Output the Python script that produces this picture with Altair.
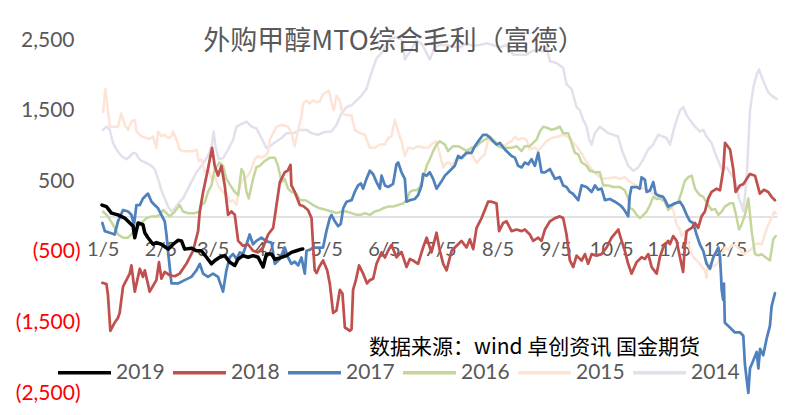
import altair as alt
import pandas as pd

# (day of year, margin) points, one list per year
s2019 = [(4.6,164),(7.0,142),(9.7,49),(13.2,25),(16.8,-21),(18.6,-67),(21.3,-136),(22.2,-299),(24.0,-90),(26.6,-114),(27.6,-229),(29.3,-299),(32.0,-392),(33.8,-368),(36.5,-392),(40.1,-461),(42.8,-392),(45.4,-336),(47.3,-344),(49.0,-461),(52.6,-447),(55.3,-484),(58.0,-484),(60.7,-576),(63.4,-669),(65.2,-622),(67.8,-576),(70.5,-553),(73.2,-646),(75.9,-692),(77.7,-600),(80.3,-553),(83.0,-576),(85.7,-553),(88.4,-576),(91.1,-715),(92.9,-531),(95.6,-531),(97.4,-604),(100.1,-586),(103.7,-553),(106.3,-507),(109.0,-484),(111.7,-461),(112.4,-458)]

s2018 = [(4.8,-938),(7.0,-956),(7.8,-1108),(9.1,-1618),(11.4,-1503),(13.2,-1433),(14.1,-1364),(15.9,-993),(18.6,-854),(19.5,-808),(20.4,-692),(22.2,-1063),(24.9,-739),(26.6,-854),(27.6,-761),(30.2,-1063),(33.8,-900),(35.2,-646),(36.5,-878),(38.3,-785),(41.0,-831),(43.7,-845),(46.3,-808),(49.9,-669),(53.5,-484),(56.2,-206),(57.1,72),(58.9,350),(61.5,674),(63.7,975),(65.1,720),(66.9,581),(68.7,720),(70.5,442),(72.3,25),(74.1,72),(75.9,25),(77.7,-344),(80.3,-414),(83.0,-392),(85.7,-484),(88.4,-507),(91.1,-438),(93.8,-253),(96.5,-160),(98.3,164),(100.1,489),(102.7,628),(104.3,650),(105.8,734),(106.3,442),(108.1,350),(110.8,164),(112.6,150),(115.2,94),(117.1,-21),(117.9,-392),(118.8,-761),(119.8,-800),(121.2,-715),(123.3,-622),(125.5,-761),(126.9,-947),(128.7,-1364),(130.5,-1330),(132.3,-1039),(133.7,-1090),(135.0,-1572),(137.7,-1618),(138.6,-1595),(139.4,-1039),(140.9,-900),(142.6,-692),(144.8,-808),(146.9,-947),(148.4,-900),(150.2,-880),(152.0,-669),(154.7,-507),(156.5,-580),(158.2,-484),(160.0,-400),(162.7,-576),(165.4,-500),(168.1,-715),(169.9,-600),(171.6,-622),(174.3,-669),(177.0,-438),(178.9,-299),(181.5,-507),(184.2,-229),(186.0,-484),(187.8,-669),(189.6,-761),(192.3,-484),(195.0,-414),(197.6,-344),(200.3,-438),(202.1,-322),(203.9,-461),(205.7,-160),(208.4,-21),(211.9,211),(213.7,211),(216.4,188),(217.8,-206),(220.0,-90),(221.8,-67),(224.5,-206),(227.2,-183),(229.9,-206),(231.6,-183),(234.3,-253),(236.1,-344),(238.8,-299),(240.6,-344),(242.4,-183),(245.1,-67),(247.8,-21),(250.4,3),(252.2,-21),(254.0,-253),(255.8,-622),(257.6,-715),(259.4,-553),(262.1,-622),(263.9,-531),(265.6,-669),(267.5,-531),(270.1,-553),(272.8,-531),(275.5,-438),(278.2,-299),(281.8,-183),(283.6,-344),(285.3,-484),(287.1,-669),(288.9,-808),(291.6,-646),(294.3,-576),(296.1,-600),(297.9,-531),(299.7,-715),(302.4,-808),(304.1,-576),(305.9,-438),(308.6,-344),(309.5,-390),(311.3,-276),(313.1,-344),(314.9,-576),(316.6,-785),(317.6,-392),(318.5,-206),(321.2,-160),(323.0,-90),(324.7,-160),(326.5,3),(328.3,72),(330.1,257),(331.9,350),(334.6,396),(336.4,372),(338.2,674),(339.1,1044),(341.8,951),(343.5,674),(344.8,350),(347.1,442),(348.9,460),(350.7,535),(352.5,604),(355.2,580),(357.8,326),(360.0,380),(362.3,350),(364.1,280),(365.9,233)]

s2017 = [(4.8,-90),(6.1,-206),(8.8,-229),(11.4,-253),(13.2,-67),(15.9,94),(18.6,72),(20.4,25),(21.8,-114),(23.1,164),(24.9,164),(26.6,257),(29.3,326),(31.2,211),(32.9,164),(34.7,118),(36.5,25),(38.3,-67),(39.2,-253),(40.4,-576),(41.9,-947),(45.4,-947),(49.0,-900),(52.6,-854),(55.3,-761),(57.1,-669),(58.9,-808),(61.5,-854),(64.2,-808),(66.9,-854),(69.6,-1063),(71.4,-761),(73.2,-576),(75.0,-531),(76.8,-600),(78.6,-507),(80.3,-531),(82.2,-392),(83.9,-253),(85.7,-392),(87.5,-344),(90.2,-299),(92.9,-350),(95.6,-368),(97.4,-669),(100.1,-600),(102.7,-438),(104.5,-576),(106.3,-669),(108.1,-640),(109.9,-692),(111.7,-580),(113.5,-808),(114.4,-484),(116.2,-470),(117.9,-438),(120.5,-440),(123.3,-438),(125.1,-206),(126.9,-21),(127.8,25),(129.6,-67),(131.4,-136),(132.8,-100),(134.1,118),(135.9,211),(138.6,233),(140.3,350),(142.1,442),(143.6,470),(144.8,396),(146.6,535),(148.4,650),(150.2,600),(152.0,489),(153.8,396),(154.7,581),(156.5,442),(158.2,420),(160.9,465),(162.7,743),(163.6,766),(165.4,628),(167.2,535),(168.1,211),(169.9,233),(172.6,250),(174.3,303),(176.2,442),(177.0,604),(178.9,580),(180.6,628),(182.4,535),(184.2,396),(186.9,500),(188.7,581),(191.4,650),(194.0,720),(195.8,859),(197.6,830),(200.3,905),(203.0,905),(204.8,998),(206.6,1067),(209.2,1160),(211.1,1160),(212.8,1120),(214.6,1067),(216.4,1020),(218.2,1044),(220.9,951),(222.7,905),(224.5,859),(226.3,836),(228.0,720),(229.9,697),(231.6,766),(233.4,740),(235.2,813),(237.0,720),(238.8,905),(240.6,628),(242.4,628),(245.1,674),(247.8,535),(250.4,560),(252.2,442),(254.0,420),(255.8,350),(257.6,320),(260.3,233),(262.1,442),(264.8,419),(267.5,350),(269.3,442),(271.0,380),(272.8,396),(274.6,233),(277.3,250),(280.0,211),(282.7,164),(284.4,120),(287.1,3),(288.0,303),(288.9,419),(291.6,419),(293.4,396),(294.3,558),(296.1,520),(297.0,350),(298.8,370),(300.6,489),(301.8,326),(303.2,300),(305.9,280),(306.8,240),(308.6,142),(310.4,165),(312.2,188),(314.9,211),(316.6,142),(318.5,25),(320.3,-67),(322.0,-90),(323.8,-253),(325.6,-392),(327.4,-484),(329.2,-669),(331.0,-739),(332.8,-576),(334.6,-484),(335.5,-438),(336.4,-576),(336.9,-808),(337.3,-1039),(338.1,-1178),(338.5,-950),(339.0,-1503),(341.7,-1572),(344.4,-1642),(347.1,-1640),(348.9,-1688),(349.8,-2100),(351.6,-2498),(352.5,-2150),(354.1,-2050),(356.1,-1919),(357.0,-2150),(357.9,-1873),(359.6,-1965),(361.4,-1734),(363.2,-1549),(364.1,-1271),(365.9,-1086)]

s2016 = [(5.2,72),(7.8,3),(10.5,-114),(13.2,-253),(15.9,-299),(18.6,-299),(20.4,-253),(23.1,-160),(25.8,-90),(28.5,-21),(31.2,3),(33.8,3),(35.6,25),(37.4,94),(39.2,49),(41.0,3),(43.7,72),(46.3,164),(48.1,72),(50.8,49),(54.4,49),(57.1,72),(58.0,164),(59.8,200),(61.5,350),(63.4,442),(65.1,674),(67.8,766),(69.6,720),(71.4,535),(74.1,419),(75.9,350),(77.7,303),(79.5,674),(80.7,620),(82.2,350),(83.4,257),(85.7,535),(87.5,700),(89.3,720),(92.0,789),(94.7,836),(97.4,836),(99.1,720),(101.0,489),(102.7,535),(104.5,396),(106.3,350),(109.0,326),(110.8,233),(113.5,233),(115.3,211),(117.9,164),(121.5,118),(125.1,94),(127.8,72),(130.5,49),(133.2,72),(135.9,72),(138.6,49),(141.2,25),(143.6,25),(145.7,49),(148.4,25),(151.1,72),(153.8,94),(155.5,118),(158.2,142),(160.9,142),(163.6,164),(166.3,188),(168.1,233),(169.9,350),(171.6,372),(173.5,372),(175.2,419),(177.0,535),(178.9,720),(180.6,813),(182.4,928),(184.2,1021),(186.0,1067),(188.7,1021),(190.4,928),(193.1,998),(195.8,998),(197.6,975),(200.3,928),(203.0,975),(205.7,998),(207.5,1044),(210.1,1090),(212.8,1136),(215.5,1067),(217.3,998),(220.0,975),(221.8,975),(224.5,975),(227.2,998),(229.9,928),(231.6,998),(234.3,998),(236.1,1044),(237.9,1090),(239.7,1206),(241.5,1275),(244.2,1253),(246.0,1229),(248.7,1253),(250.4,1275),(252.2,1183),(254.9,1183),(256.7,1044),(258.5,905),(260.3,882),(262.1,766),(264.8,720),(266.5,650),(269.2,628),(271.9,628),(273.7,442),(276.4,442),(279.1,419),(282.7,419),(285.3,372),(287.1,257),(288.0,118),(289.8,100),(291.6,25),(293.4,-21),(295.2,20),(297.0,72),(298.8,164),(300.6,280),(302.4,250),(304.1,257),(306.8,211),(308.6,94),(311.3,164),(314.0,211),(315.8,350),(317.6,511),(319.4,558),(321.2,581),(323.0,396),(325.6,303),(327.4,280),(330.1,164),(331.9,94),(333.7,110),(335.5,25),(337.3,72),(339.0,142),(341.7,188),(343.5,188),(344.8,49),(346.6,-183),(348.0,-114),(349.8,25),(351.6,257),(353.4,-206),(355.2,-531),(357.0,-550),(358.8,-531),(360.5,-570),(363.2,-622),(365.0,-322),(366.3,-276)]

s2015 = [(5.2,1483),(6.4,1808),(7.8,1507),(8.8,1275),(11.4,1275),(13.2,1275),(15.0,1461),(16.8,1299),(18.6,1229),(20.4,1345),(22.2,1368),(23.1,1206),(25.8,1136),(28.5,1114),(30.2,1100),(32.0,1136),(33.8,975),(34.7,1206),(36.5,1140),(38.3,1160),(40.1,1114),(41.9,1136),(42.8,1206),(44.6,1090),(46.3,951),(48.1,928),(50.8,928),(53.5,928),(55.3,951),(56.6,789),(58.0,813),(59.8,628),(61.5,674),(63.4,535),(65.1,581),(66.9,442),(68.7,372),(70.5,326),(72.0,300),(73.2,211),(75.0,230),(76.8,164),(77.7,303),(79.5,511),(81.3,535),(83.0,581),(84.8,674),(86.6,813),(88.4,859),(90.2,836),(92.0,859),(93.6,900),(94.7,1090),(98.3,1275),(101.0,1299),(104.5,1275),(106.3,1183),(108.1,998),(109.9,1229),(111.7,1414),(112.6,1600),(114.4,1646),(116.2,1600),(117.9,1646),(119.8,1620),(121.5,1630),(123.3,1739),(125.1,1761),(126.5,1785),(127.8,1622),(129.1,1507),(130.5,1715),(132.3,1646),(133.7,1461),(135.9,1438),(138.6,1438),(140.3,1229),(143.0,1183),(145.7,1160),(148.4,975),(151.1,975),(153.8,1021),(156.5,1021),(158.2,1114),(160.0,1136),(161.8,1368),(163.6,1206),(165.4,1067),(167.2,859),(169.0,975),(171.6,960),(174.3,998),(177.0,980),(179.7,975),(182.4,1044),(184.2,1067),(186.0,882),(187.8,697),(189.6,766),(191.4,760),(192.3,720),(195.0,820),(196.7,800),(199.4,860),(201.2,905),(203.2,880),(205.7,766),(208.0,830),(210.1,880),(211.9,1090),(214.6,1060),(217.3,1044),(220.0,1000),(222.7,1044),(224.5,1070),(226.3,1136),(228.0,1090),(230.7,1114),(232.5,1090),(234.3,951),(237.0,980),(238.8,928),(240.6,990),(243.3,1067),(246.0,1114),(249.5,1136),(252.2,1160),(254.0,1136),(255.8,1114),(257.6,1044),(259.4,998),(262.1,900),(263.9,813),(265.6,740),(267.5,674),(270.1,600),(272.8,535),(276.4,545),(280.0,558),(282.7,535),(285.3,560),(287.1,511),(289.8,465),(293.4,419),(295.6,400),(297.8,372),(300.5,326),(303.2,280),(305.9,260),(308.6,164),(311.3,94),(313.1,-114),(314.9,-183),(315.8,-276),(317.6,-206),(319.4,-392),(321.2,-531),(323.0,-600),(324.7,-646),(326.5,-700),(328.3,-761),(329.2,-870),(330.1,-646),(331.9,-715),(333.7,-690),(335.5,-646),(337.3,-531),(339.0,-438),(340.8,-470),(342.6,-414),(344.4,-400),(347.1,-461),(348.9,-531),(350.7,-507),(353.4,-461),(355.2,-392),(357.0,-380),(358.8,-392),(360.5,-253),(362.3,-114),(364.1,-21),(365.5,72),(366.4,40)]

s2014 = [(5.2,1229),(7.0,1275),(8.8,1230),(10.5,1044),(12.4,951),(15.0,859),(17.7,813),(19.5,850),(21.3,905),(23.1,890),(24.0,836),(25.8,789),(28.5,760),(31.2,720),(32.9,674),(34.7,535),(36.5,372),(38.3,257),(40.1,142),(41.9,72),(43.7,118),(46.3,211),(48.1,257),(49.9,350),(52.6,489),(55.3,628),(58.0,720),(61.5,859),(63.4,998),(64.6,1206),(65.5,998),(67.3,813),(69.6,830),(72.3,951),(75.0,1090),(76.8,1275),(78.6,1300),(80.3,1322),(82.2,1345),(84.9,1275),(87.5,1250),(89.3,1160),(91.1,1067),(92.9,975),(94.7,998),(97.4,1050),(101.0,1114),(103.7,1183),(107.2,1180),(110.8,1229),(114.4,1229),(117.1,1183),(120.6,1160),(124.2,1200),(127.8,1206),(130.5,1299),(133.2,1461),(135.9,1553),(138.6,1580),(141.2,1646),(143.9,1715),(146.6,1808),(148.4,1969),(150.2,2108),(152.0,2247),(154.7,2317),(157.4,2433),(159.1,2525),(161.8,2540),(164.5,2525),(166.3,2480),(167.2,2225),(169.9,2340),(173.5,2500),(176.2,2450),(178.9,2317),(180.6,2225),(183.3,2400),(186.0,2433),(189.6,2433),(193.1,2410),(196.7,2400),(200.3,2456),(203.9,2420),(207.5,2433),(211.1,2456),(214.6,2433),(218.2,2400),(221.8,2433),(225.4,2294),(229.0,2294),(232.5,2294),(235.2,2340),(237.9,2364),(241.5,2340),(243.3,2400),(245.1,2202),(248.7,2178),(252.2,2108),(254.0,1877),(256.7,1808),(259.4,1553),(261.2,1507),(263.0,1368),(264.8,1275),(266.2,1090),(267.5,1021),(269.2,1183),(271.9,1275),(274.1,1230),(276.4,1183),(279.1,1160),(281.7,1136),(283.6,951),(285.3,836),(287.1,720),(289.8,650),(292.5,697),(295.2,813),(297.8,951),(300.5,1021),(303.2,1160),(305.2,1140),(307.7,1114),(309.5,1021),(311.3,1206),(313.1,1368),(314.9,1507),(316.7,1553),(318.5,1438),(320.3,1368),(323.0,1275),(325.6,1206),(327.4,1229),(329.2,1136),(331.9,1044),(333.7,905),(335.5,789),(337.3,674),(340.0,697),(341.7,628),(343.5,558),(345.3,442),(346.6,257),(348.0,164),(348.9,72),(350.7,535),(352.5,1507),(354.3,1831),(356.1,2017),(357.3,2086),(359.6,1924),(362.3,1761),(364.1,1715),(366.8,1669)]

years = ["2019", "2018", "2017", "2016", "2015", "2014"]
colors = ["#000000", "#C0504D", "#4F81BD", "#C3D69B", "#FCE4D6", "#E4DFEC"]
widths = [3.5, 2.75, 2.75, 2.5, 2.5, 2.5]
series = [s2019, s2018, s2017, s2016, s2015, s2014]
y_ticks = [-2500, -1500, -500, 500, 1500, 2500]
x_tick_months = [1, 2, 3, 4, 5, 6, 7, 8, 9, 10, 11, 12]

title_text = "外购甲醇MTO综合毛利（富德）"
source_text = "数据来源：wind 卓创资讯 国金期货"

base_day = pd.Timestamp("2018-12-31")
rows = []
for yr, pts in zip(years, series):
    for d, v in pts:
        rows.append({"date": base_day + pd.Timedelta(days=d), "value": v, "year": yr})
df = pd.DataFrame(rows)

W, H = 678, 381
x_scale = alt.Scale(domain=[alt.DateTime(year=2019, month=1, date=3),
                            alt.DateTime(year=2020, month=1, date=2)])
y_scale = alt.Scale(domain=[-2500, 2900], nice=False, zero=False)

x_axis = alt.Axis(
    values=[alt.DateTime(year=2019, month=m, date=5) for m in x_tick_months],
    format="%-m/%-d", labelFont="Lato", labelFontSize=20, labelColor="#595959",
    labelBaseline="middle", labelPadding=33, labelOverlap=False, labelFlush=False,
    ticks=False, grid=False, domain=True, domainColor="#D9D9D9", domainWidth=1.5,
    offset=-176.5, zindex=0,
    title=source_text, titleFont="Noto Sans CJK SC", titleFontSize=21,
    titleFontWeight="normal", titleColor="#000000", titleX=435, titleY=131,
    titleAlign="center", titleBaseline="middle",
)
y_axis = alt.Axis(
    values=y_ticks,
    labelExpr="datum.value < 0 ? '(' + format(-datum.value, ',') + ')' : format(datum.value, ',')",
    labelColor=alt.condition("datum.value < 0", alt.value("#FF0000"), alt.value("#595959")),
    labelPadding=alt.condition("datum.value < 0", alt.value(19), alt.value(25)),
    labelFont="Lato", labelFontSize=21,
    ticks=False, grid=False, domain=False, title=None,
)

color_scale = alt.Scale(domain=years, range=colors)
legend = alt.Legend(
    orient="none", legendX=-43, legendY=332, direction="horizontal",
    symbolType="stroke", symbolSize=2809, symbolStrokeWidth=3.5,
    labelFont="Lato", labelFontSize=21, labelColor="#595959", labelOffset=3,
    columnPadding=1, padding=0, title=None,
)

base = alt.Chart(df).encode(
    x=alt.X("date:T", scale=x_scale, axis=x_axis),
    y=alt.Y("value:Q", scale=y_scale, axis=y_axis),
    color=alt.Color("year:N", scale=color_scale, legend=legend),
)

layers = []
for yr, w in reversed(list(zip(years, widths))):
    layers.append(
        base.transform_filter(alt.datum.year == yr)
        .mark_line(strokeWidth=w, strokeJoin="round", strokeCap="round")
    )

chart = alt.layer(*layers).properties(
    width=W, height=H,
    autosize=alt.AutoSizeParams(type="none"),
    padding={"left": 91, "top": 4, "right": 2, "bottom": 10},
    background="white",
    title=alt.TitleParams(
        text=title_text, font="Noto Sans CJK SC", fontSize=27, fontWeight="normal",
        color="#595959", anchor="middle", orient="top", frame="group",
        offset=0, baseline="middle", dx=-44, dy=57,
    ),
).configure_view(stroke=None)

chart.save("out.html", embed_options={"renderer": "svg", "actions": False})
